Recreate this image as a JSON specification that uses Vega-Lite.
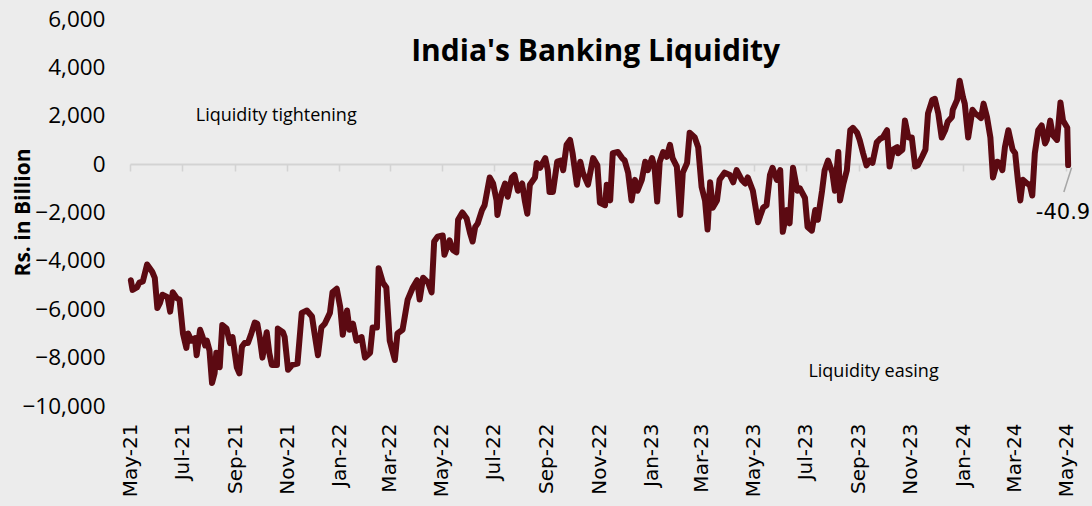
{
  "$schema": "https://vega.github.io/schema/vega-lite/v6.json",
  "width": 939,
  "height": 387,
  "autosize": {"type": "none"},
  "padding": {"left": 130, "top": 19, "right": 23, "bottom": 100},
  "background": "#ececec",
  "config": {"view": {"stroke": null}, "font": "Open Sans"},
  "layer": [
    {
      "data": {"values": [
        {"date": "2021-05-02", "value": -4800}, {"date": "2021-05-04", "value": -5200}, {"date": "2021-05-09", "value": -5100}, {"date": "2021-05-12", "value": -4900}, {"date": "2021-05-16", "value": -4850}, {"date": "2021-05-21", "value": -4150}, {"date": "2021-05-27", "value": -4450}, {"date": "2021-05-30", "value": -4700},
        {"date": "2021-06-02", "value": -5950}, {"date": "2021-06-05", "value": -5750}, {"date": "2021-06-08", "value": -5400}, {"date": "2021-06-14", "value": -5500}, {"date": "2021-06-17", "value": -6100}, {"date": "2021-06-20", "value": -5300}, {"date": "2021-06-25", "value": -5550}, {"date": "2021-06-28", "value": -5600},
        {"date": "2021-07-02", "value": -7000}, {"date": "2021-07-06", "value": -7600}, {"date": "2021-07-08", "value": -7000}, {"date": "2021-07-12", "value": -7300}, {"date": "2021-07-16", "value": -7200}, {"date": "2021-07-18", "value": -7900}, {"date": "2021-07-22", "value": -6850}, {"date": "2021-07-25", "value": -7150}, {"date": "2021-07-28", "value": -7500}, {"date": "2021-07-30", "value": -7300},
        {"date": "2021-08-02", "value": -7700}, {"date": "2021-08-05", "value": -9050}, {"date": "2021-08-08", "value": -8650}, {"date": "2021-08-10", "value": -7800}, {"date": "2021-08-14", "value": -8400}, {"date": "2021-08-17", "value": -6650}, {"date": "2021-08-22", "value": -6800}, {"date": "2021-08-26", "value": -7400}, {"date": "2021-08-29", "value": -7150},
        {"date": "2021-09-03", "value": -8400}, {"date": "2021-09-06", "value": -8650}, {"date": "2021-09-09", "value": -7550}, {"date": "2021-09-12", "value": -7400}, {"date": "2021-09-16", "value": -7400}, {"date": "2021-09-20", "value": -7000}, {"date": "2021-09-24", "value": -6550}, {"date": "2021-09-27", "value": -6600}, {"date": "2021-09-30", "value": -7200},
        {"date": "2021-10-03", "value": -8000}, {"date": "2021-10-08", "value": -6950}, {"date": "2021-10-11", "value": -7800}, {"date": "2021-10-14", "value": -8300}, {"date": "2021-10-20", "value": -8300}, {"date": "2021-10-21", "value": -6800}, {"date": "2021-10-27", "value": -6950}, {"date": "2021-10-29", "value": -7150},
        {"date": "2021-11-02", "value": -8500}, {"date": "2021-11-07", "value": -8300}, {"date": "2021-11-13", "value": -8250}, {"date": "2021-11-18", "value": -6150}, {"date": "2021-11-24", "value": -6050}, {"date": "2021-11-30", "value": -6300},
        {"date": "2021-12-03", "value": -7000}, {"date": "2021-12-07", "value": -7900}, {"date": "2021-12-11", "value": -6750}, {"date": "2021-12-15", "value": -6600}, {"date": "2021-12-21", "value": -6150}, {"date": "2021-12-24", "value": -5300}, {"date": "2021-12-29", "value": -5150},
        {"date": "2022-01-02", "value": -5900}, {"date": "2022-01-05", "value": -7050}, {"date": "2022-01-10", "value": -6050}, {"date": "2022-01-13", "value": -6850}, {"date": "2022-01-17", "value": -6600}, {"date": "2022-01-21", "value": -7300}, {"date": "2022-01-27", "value": -7150}, {"date": "2022-01-31", "value": -8000},
        {"date": "2022-02-06", "value": -7800}, {"date": "2022-02-09", "value": -6750}, {"date": "2022-02-14", "value": -6750}, {"date": "2022-02-16", "value": -4300}, {"date": "2022-02-21", "value": -4900}, {"date": "2022-02-25", "value": -5100},
        {"date": "2022-03-01", "value": -7300}, {"date": "2022-03-07", "value": -8100}, {"date": "2022-03-10", "value": -7000}, {"date": "2022-03-16", "value": -6850}, {"date": "2022-03-22", "value": -5600}, {"date": "2022-03-28", "value": -5100},
        {"date": "2022-04-02", "value": -4800}, {"date": "2022-04-05", "value": -5600}, {"date": "2022-04-09", "value": -4700}, {"date": "2022-04-15", "value": -4900}, {"date": "2022-04-19", "value": -5300}, {"date": "2022-04-22", "value": -3200}, {"date": "2022-04-26", "value": -3000},
        {"date": "2022-05-02", "value": -2950}, {"date": "2022-05-04", "value": -3750}, {"date": "2022-05-10", "value": -3150}, {"date": "2022-05-14", "value": -3550}, {"date": "2022-05-18", "value": -3650}, {"date": "2022-05-20", "value": -2300}, {"date": "2022-05-25", "value": -2000}, {"date": "2022-05-30", "value": -2250},
        {"date": "2022-06-03", "value": -2850}, {"date": "2022-06-06", "value": -3200}, {"date": "2022-06-09", "value": -2600}, {"date": "2022-06-12", "value": -2450}, {"date": "2022-06-17", "value": -1900}, {"date": "2022-06-20", "value": -1700}, {"date": "2022-06-26", "value": -550}, {"date": "2022-06-30", "value": -800},
        {"date": "2022-07-04", "value": -1500}, {"date": "2022-07-05", "value": -2100}, {"date": "2022-07-10", "value": -1200}, {"date": "2022-07-14", "value": -800}, {"date": "2022-07-17", "value": -1350}, {"date": "2022-07-22", "value": -550}, {"date": "2022-07-25", "value": -450}, {"date": "2022-07-29", "value": -1100},
        {"date": "2022-08-03", "value": -800}, {"date": "2022-08-06", "value": -1500}, {"date": "2022-08-09", "value": -2050}, {"date": "2022-08-12", "value": -850}, {"date": "2022-08-18", "value": -550}, {"date": "2022-08-20", "value": 50}, {"date": "2022-08-24", "value": -150}, {"date": "2022-08-30", "value": 250},
        {"date": "2022-09-02", "value": -250}, {"date": "2022-09-04", "value": -1150}, {"date": "2022-09-08", "value": -1150}, {"date": "2022-09-13", "value": 100}, {"date": "2022-09-18", "value": 150}, {"date": "2022-09-20", "value": -250}, {"date": "2022-09-24", "value": 800}, {"date": "2022-09-28", "value": 1000},
        {"date": "2022-10-01", "value": 450}, {"date": "2022-10-06", "value": -850}, {"date": "2022-10-10", "value": 100}, {"date": "2022-10-13", "value": -350}, {"date": "2022-10-19", "value": -850}, {"date": "2022-10-25", "value": 250}, {"date": "2022-10-30", "value": -50},
        {"date": "2022-11-02", "value": -1600}, {"date": "2022-11-08", "value": -1700}, {"date": "2022-11-10", "value": -850}, {"date": "2022-11-14", "value": -1500}, {"date": "2022-11-17", "value": 450}, {"date": "2022-11-23", "value": 500}, {"date": "2022-11-28", "value": 250},
        {"date": "2022-12-01", "value": 150}, {"date": "2022-12-05", "value": -350}, {"date": "2022-12-09", "value": -1500}, {"date": "2022-12-13", "value": -650}, {"date": "2022-12-16", "value": -1100}, {"date": "2022-12-21", "value": -650}, {"date": "2022-12-25", "value": 100}, {"date": "2022-12-28", "value": -250},
        {"date": "2023-01-02", "value": 250}, {"date": "2023-01-05", "value": -150}, {"date": "2023-01-08", "value": -1550}, {"date": "2023-01-11", "value": 100}, {"date": "2023-01-15", "value": 500}, {"date": "2023-01-19", "value": 300}, {"date": "2023-01-23", "value": 800}, {"date": "2023-01-26", "value": 250}, {"date": "2023-01-31", "value": -100},
        {"date": "2023-02-04", "value": -2100}, {"date": "2023-02-07", "value": -350}, {"date": "2023-02-12", "value": 50}, {"date": "2023-02-15", "value": 1300}, {"date": "2023-02-21", "value": 1100}, {"date": "2023-02-25", "value": 700},
        {"date": "2023-03-01", "value": -950}, {"date": "2023-03-05", "value": -1500}, {"date": "2023-03-08", "value": -2700}, {"date": "2023-03-11", "value": -750}, {"date": "2023-03-14", "value": -1800}, {"date": "2023-03-19", "value": -1500}, {"date": "2023-03-22", "value": -650}, {"date": "2023-03-28", "value": -350},
        {"date": "2023-04-03", "value": -450}, {"date": "2023-04-07", "value": -750}, {"date": "2023-04-11", "value": -250}, {"date": "2023-04-17", "value": -650}, {"date": "2023-04-21", "value": -800}, {"date": "2023-04-24", "value": -550}, {"date": "2023-04-30", "value": -1100},
        {"date": "2023-05-06", "value": -2400}, {"date": "2023-05-12", "value": -1800}, {"date": "2023-05-16", "value": -1700}, {"date": "2023-05-20", "value": -450}, {"date": "2023-05-23", "value": -150}, {"date": "2023-05-28", "value": -650},
        {"date": "2023-06-01", "value": -250}, {"date": "2023-06-04", "value": -2800}, {"date": "2023-06-09", "value": -1900}, {"date": "2023-06-12", "value": -2450}, {"date": "2023-06-16", "value": -150}, {"date": "2023-06-21", "value": -1100}, {"date": "2023-06-24", "value": -1000}, {"date": "2023-06-30", "value": -1400},
        {"date": "2023-07-03", "value": -2600}, {"date": "2023-07-08", "value": -2750}, {"date": "2023-07-12", "value": -1900}, {"date": "2023-07-15", "value": -2300}, {"date": "2023-07-20", "value": -1100}, {"date": "2023-07-23", "value": -250}, {"date": "2023-07-27", "value": 150},
        {"date": "2023-08-01", "value": -350}, {"date": "2023-08-04", "value": -1100}, {"date": "2023-08-08", "value": 500}, {"date": "2023-08-10", "value": -1500}, {"date": "2023-08-14", "value": -800}, {"date": "2023-08-18", "value": -250}, {"date": "2023-08-22", "value": 1400}, {"date": "2023-08-25", "value": 1500}, {"date": "2023-08-30", "value": 1300},
        {"date": "2023-09-02", "value": 1000}, {"date": "2023-09-06", "value": 450}, {"date": "2023-09-10", "value": -50}, {"date": "2023-09-14", "value": 150}, {"date": "2023-09-17", "value": 50}, {"date": "2023-09-22", "value": 900}, {"date": "2023-09-26", "value": 1050}, {"date": "2023-09-29", "value": 1100},
        {"date": "2023-10-04", "value": 1400}, {"date": "2023-10-07", "value": -100}, {"date": "2023-10-11", "value": 600}, {"date": "2023-10-16", "value": 700}, {"date": "2023-10-17", "value": 450}, {"date": "2023-10-22", "value": 600}, {"date": "2023-10-25", "value": 1800}, {"date": "2023-10-29", "value": 1100},
        {"date": "2023-11-02", "value": 1100}, {"date": "2023-11-06", "value": -100}, {"date": "2023-11-09", "value": -50}, {"date": "2023-11-14", "value": 300}, {"date": "2023-11-18", "value": 600}, {"date": "2023-11-21", "value": 2100}, {"date": "2023-11-26", "value": 2650}, {"date": "2023-11-29", "value": 2700},
        {"date": "2023-12-03", "value": 2100}, {"date": "2023-12-07", "value": 1100}, {"date": "2023-12-11", "value": 1400}, {"date": "2023-12-14", "value": 1750}, {"date": "2023-12-19", "value": 1950}, {"date": "2023-12-20", "value": 2250}, {"date": "2023-12-25", "value": 2650}, {"date": "2023-12-28", "value": 3450},
        {"date": "2024-01-01", "value": 2750}, {"date": "2024-01-03", "value": 2500}, {"date": "2024-01-07", "value": 1100}, {"date": "2024-01-12", "value": 2250}, {"date": "2024-01-15", "value": 2100}, {"date": "2024-01-19", "value": 2000}, {"date": "2024-01-22", "value": 1900}, {"date": "2024-01-25", "value": 2500}, {"date": "2024-01-29", "value": 1950},
        {"date": "2024-02-02", "value": 1100}, {"date": "2024-02-05", "value": -550}, {"date": "2024-02-10", "value": 100}, {"date": "2024-02-13", "value": 50}, {"date": "2024-02-16", "value": -250}, {"date": "2024-02-19", "value": 700}, {"date": "2024-02-23", "value": 1400}, {"date": "2024-02-28", "value": 600},
        {"date": "2024-03-02", "value": 450}, {"date": "2024-03-05", "value": -600}, {"date": "2024-03-08", "value": -1500}, {"date": "2024-03-11", "value": -650}, {"date": "2024-03-16", "value": -800}, {"date": "2024-03-19", "value": -850}, {"date": "2024-03-22", "value": -1300}, {"date": "2024-03-25", "value": 450}, {"date": "2024-03-29", "value": 1400},
        {"date": "2024-04-02", "value": 1600}, {"date": "2024-04-06", "value": 850}, {"date": "2024-04-08", "value": 1000}, {"date": "2024-04-12", "value": 1800}, {"date": "2024-04-15", "value": 1200}, {"date": "2024-04-20", "value": 1000}, {"date": "2024-04-24", "value": 2550}, {"date": "2024-04-27", "value": 1800},
        {"date": "2024-05-02", "value": 1500}, {"date": "2024-05-03", "value": -40.9}
      ]},
      "mark": {"type": "line", "color": "#5c0a12", "strokeWidth": 6, "strokeJoin": "round", "strokeCap": "round"},
      "encoding": {
        "x": {
          "field": "date", "type": "temporal",
          "scale": {"domain": [{"year": 2021, "month": 5, "date": 1}, {"year": 2024, "month": 5, "date": 4}]},
          "axis": {
            "title": null, "format": "%b-%y", "tickCount": {"interval": "month", "step": 2},
            "labelAngle": -90, "labelFont": "DejaVu Sans", "labelFontSize": 20, "labelColor": "#000000",
            "labelOverlap": false, "labelFlush": false, "offset": -242,
            "domainColor": "#d3d3d3", "domainWidth": 2, "tickColor": "#d3d3d3", "tickWidth": 1.5, "tickSize": 7,
            "labelPadding": 252, "grid": false
          }
        },
        "y": {
          "field": "value", "type": "quantitative",
          "scale": {"domain": [-10000, 6000], "nice": false, "zero": false},
          "axis": {
            "title": "Rs. in Billion", "values": [-10000, -8000, -6000, -4000, -2000, 0, 2000, 4000, 6000],
            "format": ",.0f", "labelFont": "Open Sans", "labelFontSize": 22.5, "labelColor": "#000000",
            "domain": false, "ticks": false, "grid": false, "labelPadding": 25,
            "titleFont": "Open Sans", "titleFontSize": 21, "titleFontWeight": "bold", "titleColor": "#000000",
            "titleX": -107, "titleY": 193, "titleAngle": -90, "titleAlign": "center", "titleBaseline": "middle"
          }
        }
      }
    },
    {
      "data": {"values": [{"label": "India's Banking Liquidity"}]},
      "mark": {"type": "text", "font": "Open Sans", "fontWeight": "bold", "fontSize": 30, "align": "center", "baseline": "alphabetic", "color": "#000000"},
      "encoding": {
        "x": {"datum": {"year": 2022, "month": 10, "date": 28}, "type": "temporal"},
        "y": {"datum": 4250, "type": "quantitative"},
        "text": {"field": "label"}
      }
    },
    {
      "data": {"values": [{"label": "Liquidity tightening", "date": "2021-07-17", "value": 1780}, {"label": "Liquidity easing", "date": "2023-07-04", "value": -8800}]},
      "mark": {"type": "text", "font": "Open Sans", "fontSize": 18, "align": "left", "baseline": "alphabetic", "color": "#000000"},
      "encoding": {
        "x": {"field": "date", "type": "temporal"},
        "y": {"field": "value", "type": "quantitative"},
        "text": {"field": "label"}
      }
    },
    {
      "data": {"values": [{"label": "-40.9"}]},
      "mark": {"type": "text", "font": "DejaVu Sans", "fontSize": 21, "align": "center", "baseline": "alphabetic", "color": "#000000"},
      "encoding": {
        "x": {"datum": {"year": 2024, "month": 4, "date": 27}, "type": "temporal"},
        "y": {"datum": -2274, "type": "quantitative"},
        "text": {"field": "label"}
      }
    },
    {
      "data": {"values": [{}]},
      "mark": {"type": "rule", "color": "#a6a6a6", "strokeWidth": 1.5},
      "encoding": {
        "x": {"datum": {"year": 2024, "month": 5, "date": 7}, "type": "temporal"},
        "y": {"datum": -150, "type": "quantitative"},
        "x2": {"datum": {"year": 2024, "month": 4, "date": 28}},
        "y2": {"datum": -1150}
      }
    }
  ]
}
